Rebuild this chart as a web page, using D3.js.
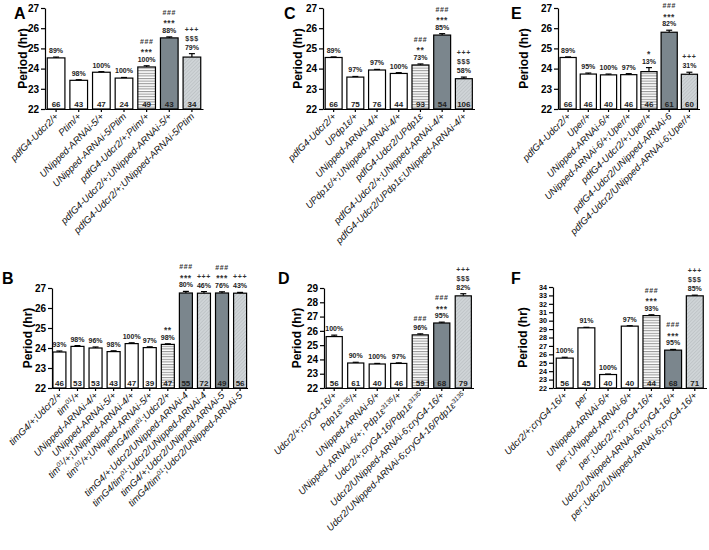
<!DOCTYPE html>
<html>
<head>
<meta charset="utf-8">
<script src="https://cdn.jsdelivr.net/npm/d3@7"></script>
<style>
  body { margin: 0; background: #fff; }
  svg { font-family: Arial, "Liberation Sans", sans-serif; }
  .tick text { font-weight: bold; }
</style>
</head>
<body>
<svg id="fig" width="709" height="550"></svg>
<script>
// ---- data ----
// "^...^" marks a superscript part of a genotype label
const labelsA = ['pdfG4-Udcr2/+', 'Ptim/+', 'UNipped-ARNAi-5/+', 'UNipped-ARNAi-5/Ptim',
  'pdfG4-Udcr2/+;Ptim/+', 'pdfG4-Udcr2/+;UNipped-ARNAi-5/+', 'pdfG4-Udcr2/+;UNipped-ARNAi-5/Ptim'];
const valuesA = [24.53, 23.42, 23.82, 23.53, 24.08, 25.52, 24.57];
const errorsA = [0.04, 0.03, 0.03, 0.03, 0.06, 0.05, 0.17];
const pctA = ['89%', '98%', '100%', '100%', '100%', '88%', '79%'];
const countsA = [66, 43, 47, 24, 49, 43, 34];
const sigA = [[], [], [], [], ['###', '***'], ['###', '***'], ['+++', '$$$']];

const labelsC = ['pdfG4-Udcr2/+', 'UPdp1ε/+', 'UNipped-ARNAi-4/+', 'UPdp1ε/+;UNipped-ARNAi-4/+',
  'pdfG4-Udcr2/UPdp1ε', 'pdfG4-Udcr2/+;UNipped-ARNAi-4/+', 'pdfG4-Udcr2/UPdp1ε;UNipped-ARNAi-4/+'];
const valuesC = [24.55, 23.58, 23.93, 23.76, 24.18, 25.66, 23.5];
const errorsC = [0.03, 0.03, 0.03, 0.04, 0.05, 0.07, 0.08];
const pctC = ['89%', '97%', '97%', '100%', '73%', '85%', '58%'];
const countsC = [66, 75, 76, 44, 93, 54, 106];
const sigC = [[], [], [], [], ['###', '**'], ['###', '***'], ['+++', '$$$']];

const labelsE = ['pdfG4-Udcr2/+', 'Uper/+', 'UNipped-ARNAi-6/+', 'UNipped-ARNAi-6/+;Uper/+',
  'pdfG4-Udcr2/+;Uper/+', 'pdfG4-Udcr2/UNipped-ARNAi-6', 'pdfG4-Udcr2/UNipped-ARNAi-6;Uper/+'];
const valuesE = [24.55, 23.73, 23.69, 23.7, 23.85, 25.8, 23.72];
const errorsE = [0.03, 0.05, 0.04, 0.05, 0.2, 0.1, 0.1];
const pctE = ['89%', '95%', '100%', '97%', '13%', '82%', '31%'];
const countsE = [66, 46, 40, 46, 46, 61, 60];
const sigE = [[], [], [], [], ['*'], ['###', '***'], ['+++']];

const labelsB = ['timG4/+;Udcr2/+', 'tim^01^/+', 'UNipped-ARNAi-4/+', 'UNipped-ARNAi-5/+',
  'tim^01^/+;UNipped-ARNAi-4/+', 'tim^01^/+;UNipped-ARNAi-5/+', 'timG4/tim^01^;Udcr2/+',
  'timG4/+;Udcr2/UNipped-ARNAi-4', 'timG4/tim^01^;Udcr2/UNipped-ARNAi-4',
  'timG4/+;Udcr2/UNipped-ARNAi-5', 'timG4/tim^01^;Udcr2/UNipped-ARNAi-5'];
const valuesB = [23.8, 24.08, 24.0, 23.82, 24.22, 24.02, 24.18, 26.75, 26.74, 26.75, 26.74];
const errorsB = [0.05, 0.04, 0.05, 0.04, 0.04, 0.04, 0.03, 0.08, 0.08, 0.06, 0.04];
const pctB = ['93%', '98%', '96%', '98%', '100%', '97%', '98%', '80%', '46%', '76%', '43%'];
const countsB = [46, 53, 53, 43, 47, 39, 47, 55, 72, 49, 56];
const sigB = [[], [], [], [], [], [], ['**'], ['###', '***'], ['+++'], ['###', '***'], ['+++']];

const labelsD = ['Udcr2/+;cryG4-16/+', 'Pdp1ε^3135^/+', 'UNipped-ARNAi-6/+',
  'UNipped-ARNAi-6/+; Pdp1ε^3135^/+', 'Udcr2/+;cryG4-16/Pdp1ε^3135^',
  'Udcr2/UNipped-ARNAi-6;cryG4-16/+', 'Udcr2/UNipped-ARNAi-6;cryG4-16/Pdp1ε^3135^'];
const valuesD = [25.6, 23.75, 23.68, 23.72, 25.72, 26.55, 28.45];
const errorsD = [0.1, 0.05, 0.04, 0.04, 0.07, 0.06, 0.15];
const pctD = ['100%', '90%', '100%', '97%', '96%', '95%', '82%'];
const countsD = [56, 61, 40, 46, 59, 68, 79];
const sigD = [[], [], [], [], ['###'], ['###', '***'], ['+++', '$$$']];

const labelsF = ['Udcr2/+;cryG4-16/+', 'per^-^', 'UNipped-ARNAi-6/+', 'per^-^;UNipped-ARNAi-6/+',
  'per^-^;Udcr2/+;cryG4-16/+', 'Udcr2/UNipped-ARNAi-6;cryG4-16/+',
  'per^-^;Udcr2/UNipped-ARNAi-6;cryG4-16/+'];
const valuesF = [25.55, 29.15, 23.6, 29.35, 30.6, 26.5, 32.95];
const errorsF = [0.1, 0.06, 0.06, 0.05, 0.1, 0.08, 0.08];
const pctF = ['100%', '91%', '100%', '97%', '93%', '95%', '85%'];
const countsF = [56, 45, 40, 40, 44, 68, 71];
const sigF = [[], [], [], [], ['###', '***'], ['###', '***'], ['+++', '$$$']];

// ---- layout / style per panel ----
const panels = [
  { letter: 'A', labels: labelsA, values: valuesA, errors: errorsA, pct: pctA, counts: countsA, sig: sigA,
    kinds: ['w', 'w', 'w', 'w', 'h', 'd', 'x'], yMax: 27, x0: 45, x1: 203, top: 8, bot: 109,
    pi: 0.22, po: 0.1, letterX: 14, letterY: 19, ylabX: 27, tickFont: 10 },
  { letter: 'C', labels: labelsC, values: valuesC, errors: errorsC, pct: pctC, counts: countsC, sig: sigC,
    kinds: ['w', 'w', 'w', 'w', 'h', 'd', 'x'], yMax: 27, x0: 323, x1: 474.5, top: 8, bot: 109,
    pi: 0.22, po: 0.1, letterX: 284, letterY: 19, ylabX: 302, tickFont: 10 },
  { letter: 'E', labels: labelsE, values: valuesE, errors: errorsE, pct: pctE, counts: countsE, sig: sigE,
    kinds: ['w', 'w', 'w', 'w', 'h', 'd', 'x'], yMax: 27, x0: 558, x1: 699.5, top: 8, bot: 109,
    pi: 0.2, po: 0.1, letterX: 511, letterY: 19, ylabX: 528, tickFont: 10 },
  { letter: 'B', labels: labelsB, values: valuesB, errors: errorsB, pct: pctB, counts: countsB, sig: sigB,
    kinds: ['w', 'w', 'w', 'w', 'w', 'w', 'h', 'd', 'x', 'd', 'x'], yMax: 27, x0: 52, x1: 247.5, top: 288, bot: 388,
    pi: 0.28, po: 0.05, letterX: 2, letterY: 284, ylabX: 32, tickFont: 10 },
  { letter: 'D', labels: labelsD, values: valuesD, errors: errorsD, pct: pctD, counts: countsD, sig: sigD,
    kinds: ['w', 'w', 'w', 'w', 'h', 'd', 'x'], yMax: 29, x0: 324, x1: 473.5, top: 288, bot: 388,
    pi: 0.25, po: 0.1, letterX: 278, letterY: 284, ylabX: 301, tickFont: 10 },
  { letter: 'F', labels: labelsF, values: valuesF, errors: errorsF, pct: pctF, counts: countsF, sig: sigF,
    kinds: ['w', 'w', 'w', 'w', 'h', 'd', 'x'], yMax: 34, x0: 553, x1: 706.5, top: 287, bot: 388,
    pi: 0.22, po: 0.15, letterX: 511, letterY: 284, ylabX: 527, tickFont: 7.2 }
];

const svg = d3.select('#fig');
svg.append('rect').attr('width', 709).attr('height', 550).attr('fill', '#fff');

// fill patterns
const defs = svg.append('defs');
const hs = defs.append('pattern').attr('id', 'hstripe').attr('patternUnits', 'userSpaceOnUse')
  .attr('width', 4).attr('height', 2.6);
hs.append('rect').attr('width', 4).attr('height', 2.6).attr('fill', '#fff');
hs.append('line').attr('x1', 0).attr('x2', 4).attr('y1', 0.6).attr('y2', 0.6)
  .attr('stroke', '#6a6a6a').attr('stroke-width', 0.8);

const xh = defs.append('pattern').attr('id', 'xhatch').attr('patternUnits', 'userSpaceOnUse')
  .attr('width', 2.5).attr('height', 2.5).attr('patternTransform', 'rotate(45)');
xh.append('rect').attr('width', 2.5).attr('height', 2.5).attr('fill', '#cfd4d7');
xh.append('line').attr('x1', 0).attr('x2', 0).attr('y1', 0).attr('y2', 2.5)
  .attr('stroke', '#aab0b4').attr('stroke-width', 0.8);

const fillFor = { w: '#fff', h: 'url(#hstripe)', d: '#7b868d', x: 'url(#xhatch)' };

function addLabel(sel, str) {
  str.split('^').forEach((part, k) => {
    if (!part) return;
    const t = sel.append('tspan').text(part);
    if (k % 2 === 1) t.attr('baseline-shift', 'super').attr('font-size', '6.5px');
  });
}

function drawPanel(p) {
  const gp = svg.append('g');
  const idx = d3.range(p.values.length);

  const x = d3.scaleBand().domain(idx).range([p.x0, p.x1]).paddingInner(p.pi).paddingOuter(p.po);
  const y = d3.scaleLinear().domain([22, p.yMax]).range([p.bot, p.top]);
  const bw = x.bandwidth();

  // bars
  gp.selectAll('rect.bar')
    .data(idx)
    .enter()
    .append('rect')
    .attr('class', 'bar')
    .attr('x', (i) => x(i))
    .attr('y', (i) => y(p.values[i]))
    .attr('width', bw)
    .attr('height', (i) => y(22) - y(p.values[i]))
    .attr('fill', (i) => fillFor[p.kinds[i]])
    .attr('stroke', '#000')
    .attr('stroke-width', 1.2);

  // error bars (upper half only)
  idx.forEach((i) => {
    const cx = x(i) + bw / 2;
    const yT = y(p.values[i] + p.errors[i]);
    gp.append('line').attr('x1', cx).attr('x2', cx)
      .attr('y1', y(p.values[i])).attr('y2', yT)
      .attr('stroke', '#000').attr('stroke-width', 1.2);
    gp.append('line').attr('x1', cx - 3).attr('x2', cx + 3)
      .attr('y1', yT).attr('y2', yT)
      .attr('stroke', '#000').attr('stroke-width', 1.2);
  });

  // y axis
  const yAxisG = gp.append('g')
    .attr('transform', `translate(${p.x0},0)`)
    .call(d3.axisLeft(y).tickValues(d3.range(22, p.yMax + 1)).tickFormat(d3.format('d'))
      .tickSize(4).tickSizeOuter(0).tickPadding(2));
  yAxisG.selectAll('text').style('font-size', p.tickFont + 'px').attr('fill', '#000');
  yAxisG.selectAll('path, line').attr('stroke-width', 1.2);

  // x axis
  const xAxisG = gp.append('g')
    .attr('transform', `translate(0,${y(22)})`)
    .call(d3.axisBottom(x).tickSize(3).tickSizeOuter(0).tickFormat(''));
  xAxisG.selectAll('path, line').attr('stroke-width', 1.2);

  // sample counts inside bars
  gp.selectAll('text.count')
    .data(idx)
    .enter()
    .append('text')
    .attr('class', 'count')
    .attr('x', (i) => x(i) + bw / 2)
    .attr('y', y(22) - 2)
    .attr('text-anchor', 'middle')
    .style('font-size', '8px')
    .style('font-weight', 'bold')
    .attr('fill', '#222')
    .text((i) => p.counts[i]);

  // percent + significance marks
  idx.forEach((i) => {
    const cx = x(i) + bw / 2;
    const base = y(p.values[i] + p.errors[i]) - 4;
    gp.append('text').attr('x', cx).attr('y', base)
      .attr('text-anchor', 'middle')
      .style('font-size', '7px').style('font-weight', 'bold')
      .attr('fill', '#222')
      .text(p.pct[i]);
    const s = p.sig[i];
    s.forEach((m, j) => {
      const star = m.includes('*');
      gp.append('text').attr('x', cx).attr('y', base - 9 * (s.length - j) + (star ? 2.5 : 0))
        .attr('text-anchor', 'middle')
        .style('font-size', star ? '8.5px' : '7px')
        .style('font-weight', 'bold')
        .style('letter-spacing', '0.6px')
        .attr('fill', '#333')
        .text(m);
    });
  });

  // genotype labels
  idx.forEach((i) => {
    const t = gp.append('text')
      .attr('transform', `translate(${x(i) + bw / 2 + 3},${y(22) + 8}) rotate(-45)`)
      .attr('text-anchor', 'end')
      .style('font-size', '9.6px')
      .style('font-style', 'italic')
      .attr('fill', '#111');
    addLabel(t, p.labels[i]);
  });

  // y label
  gp.append('text')
    .attr('transform', `translate(${p.ylabX},${(p.top + p.bot) / 2}) rotate(-90)`)
    .attr('text-anchor', 'middle')
    .style('font-size', '12px')
    .style('font-weight', 'bold')
    .text('Period (hr)');

  // panel letter
  gp.append('text')
    .attr('x', p.letterX)
    .attr('y', p.letterY)
    .style('font-size', '16px')
    .style('font-weight', 'bold')
    .text(p.letter);
}

panels.forEach(drawPanel);
</script>
</body>
</html>
